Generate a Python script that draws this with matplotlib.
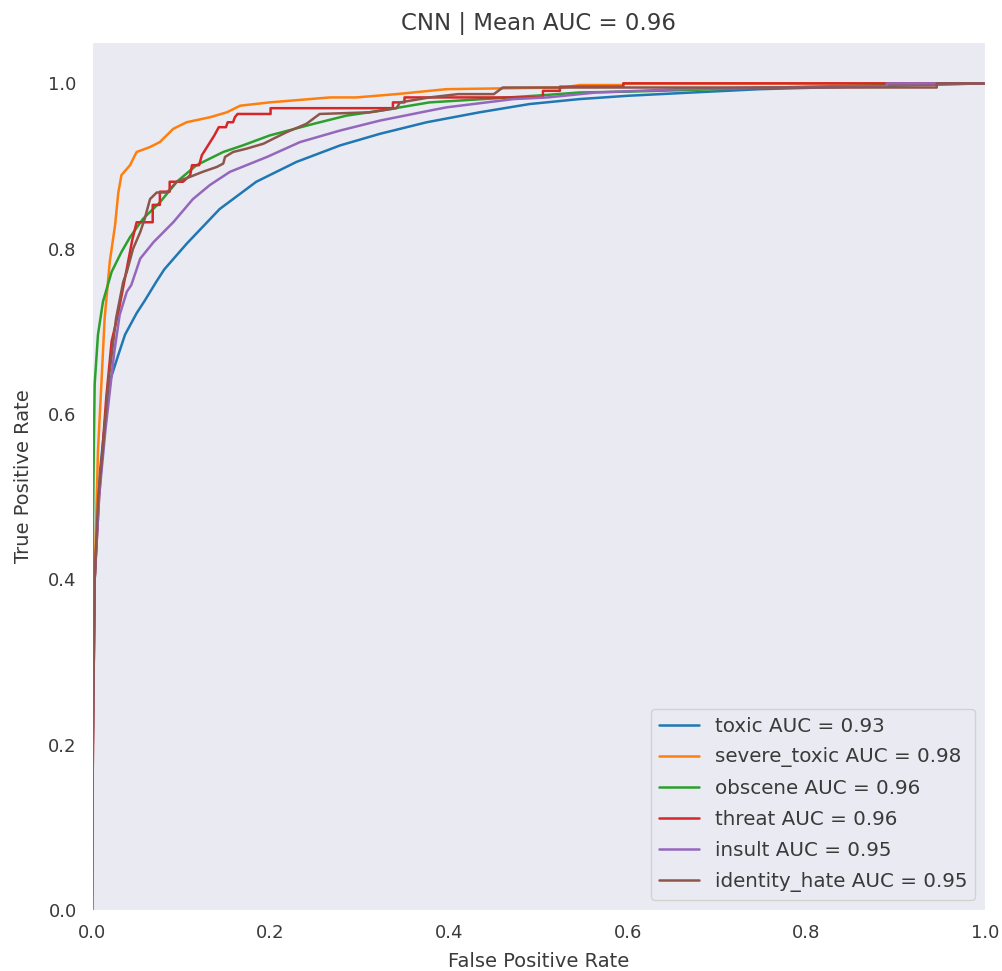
import matplotlib
matplotlib.use("Agg")
import matplotlib.pyplot as plt
import seaborn as sns

# ---- data ----
labels = ["toxic", "severe_toxic", "obscene", "threat", "insult", "identity_hate"]
aucs = [0.93, 0.98, 0.96, 0.96, 0.95, 0.95]
mean_auc = 0.96

toxic_fpr = [0, 0.001, 0.003, 0.008, 0.015, 0.021, 0.029, 0.037, 0.050, 0.059, 0.072, 0.081,
             0.106, 0.143, 0.184, 0.229, 0.278, 0.3225, 0.375, 0.434, 0.49, 0.546, 0.60,
             0.673, 0.748, 0.85, 1.0]
toxic_tpr = [0, 0.25, 0.40, 0.52, 0.595, 0.643, 0.67, 0.696, 0.722, 0.737, 0.760, 0.775,
             0.806, 0.848, 0.881, 0.905, 0.925, 0.939, 0.953, 0.965, 0.975, 0.981, 0.985,
             0.989, 0.993, 0.996, 1.0]

severe_fpr = [0, 0.001, 0.003, 0.0067, 0.0105, 0.0142, 0.020, 0.0258, 0.0295, 0.033, 0.0426,
              0.050, 0.065, 0.076, 0.091, 0.106, 0.132, 0.151, 0.166, 0.199, 0.2665, 0.296,
              0.341, 0.397, 0.528, 0.546, 0.595, 0.595, 1.0]
severe_tpr = [0, 0.2, 0.4, 0.555, 0.636, 0.716, 0.785, 0.828, 0.868, 0.889, 0.901,
              0.917, 0.923, 0.929, 0.945, 0.953, 0.959, 0.965, 0.973, 0.977, 0.983, 0.983,
              0.987, 0.993, 0.995, 0.998, 0.998, 1.0, 1.0]

obscene_fpr = [0, 0.0005, 0.001, 0.002, 0.003, 0.0067, 0.0123, 0.022, 0.033, 0.0426, 0.057,
               0.076, 0.095, 0.117, 0.147, 0.169, 0.199, 0.248, 0.285, 0.323, 0.378, 0.453,
               0.509, 0.546, 0.60, 0.70, 0.80, 0.95, 1.0]
obscene_tpr = [0, 0.3, 0.45, 0.555, 0.636, 0.696, 0.736, 0.772, 0.796, 0.814, 0.836,
               0.856, 0.881, 0.901, 0.917, 0.925, 0.937, 0.951, 0.961, 0.967, 0.977, 0.982,
               0.986, 0.989, 0.990, 0.993, 0.996, 0.999, 1.0]

threat_fpr = [0, 0.001, 0.003, 0.008, 0.012, 0.016, 0.022, 0.029, 0.039, 0.045, 0.050, 0.068,
              0.068, 0.076, 0.076, 0.087, 0.087, 0.102, 0.110, 0.112, 0.120, 0.123, 0.130,
              0.137, 0.142, 0.150, 0.152, 0.158, 0.160, 0.163, 0.200, 0.200, 0.337, 0.337,
              0.350, 0.350, 0.505, 0.505, 0.524, 0.524, 0.595, 0.595, 1.0]
threat_tpr = [0, 0.2, 0.4, 0.5, 0.56, 0.62, 0.688, 0.72, 0.776, 0.81, 0.832, 0.832,
              0.853, 0.853, 0.869, 0.869, 0.881, 0.881, 0.889, 0.901, 0.901, 0.913, 0.925,
              0.937, 0.947, 0.947, 0.953, 0.953, 0.959, 0.963, 0.963, 0.970, 0.970, 0.977,
              0.977, 0.983, 0.983, 0.991, 0.991, 0.996, 0.996, 1.0, 1.0]

insult_fpr = [0, 0.001, 0.003, 0.008, 0.015, 0.025, 0.031, 0.039, 0.044, 0.054, 0.069, 0.091,
              0.113, 0.132, 0.1545, 0.196, 0.233, 0.278, 0.3225, 0.378, 0.397, 0.472, 0.51,
              0.565, 0.658, 0.75, 0.89, 0.89, 1.0]
insult_tpr = [0, 0.2, 0.4, 0.5, 0.58, 0.675, 0.72, 0.748, 0.756, 0.788, 0.808, 0.832,
              0.860, 0.877, 0.893, 0.911, 0.929, 0.943, 0.955, 0.967, 0.971, 0.981, 0.983,
              0.989, 0.993, 0.995, 0.996, 1.0, 1.0]

identity_fpr = [0, 0.001, 0.003, 0.007, 0.012, 0.018, 0.027, 0.035, 0.039, 0.046, 0.054, 0.059,
                0.065, 0.0725, 0.084, 0.095, 0.110, 0.124, 0.140, 0.147, 0.149, 0.158, 0.173,
                0.192, 0.203, 0.218, 0.240, 0.255, 0.311, 0.341, 0.345, 0.378, 0.41, 0.45,
                0.46, 0.946, 0.946, 1.0]
identity_tpr = [0, 0.2, 0.4, 0.5, 0.555, 0.636, 0.716, 0.76, 0.772, 0.800, 0.820, 0.836,
                0.860, 0.868, 0.868, 0.881, 0.887, 0.893, 0.899, 0.903, 0.911, 0.917, 0.921,
                0.927, 0.933, 0.941, 0.951, 0.963, 0.965, 0.970, 0.977, 0.983, 0.987, 0.987,
                0.995, 0.995, 1.0, 1.0]

curves = [(toxic_fpr, toxic_tpr), (severe_fpr, severe_tpr), (obscene_fpr, obscene_tpr),
          (threat_fpr, threat_tpr), (insult_fpr, insult_tpr), (identity_fpr, identity_tpr)]

# ---- plot ----
sns.set_style("dark")
plt.rcParams["font.family"] = ["DejaVu Sans"]

fig = plt.figure(figsize=(10.02, 9.71), dpi=100)
ax = fig.add_axes([0.0918, 0.0628, 0.8912, 0.8939])

for (fpr, tpr), lab, auc in zip(curves, labels, aucs):
    ax.plot(fpr, tpr, lw=1.8, label=f"{lab} AUC = {auc:.2f}")

ax.set_xlim(0, 1.0)
ax.set_ylim(0, 1.05)
ax.set_xticks([0.0, 0.2, 0.4, 0.6, 0.8, 1.0])
ax.set_yticks([0.0, 0.2, 0.4, 0.6, 0.8, 1.0])
ax.tick_params(labelsize=13, colors="#3a3a3a")
ax.tick_params(axis="y", pad=7.5)
ax.tick_params(axis="x", pad=6.5)
ax.set_xlabel("False Positive Rate", fontsize=14, labelpad=7.5, color="#3a3a3a")
ax.set_ylabel("True Positive Rate", fontsize=14, labelpad=11, color="#3a3a3a")
ax.set_title(f"CNN | Mean AUC = {mean_auc:.2f}", fontsize=16.5, pad=9, color="#3a3a3a")
leg = ax.legend(loc="lower right", fontsize=14.3, labelspacing=0.6)
for t in leg.get_texts():
    t.set_color("#3a3a3a")

fig.savefig("out.png", dpi=100)
